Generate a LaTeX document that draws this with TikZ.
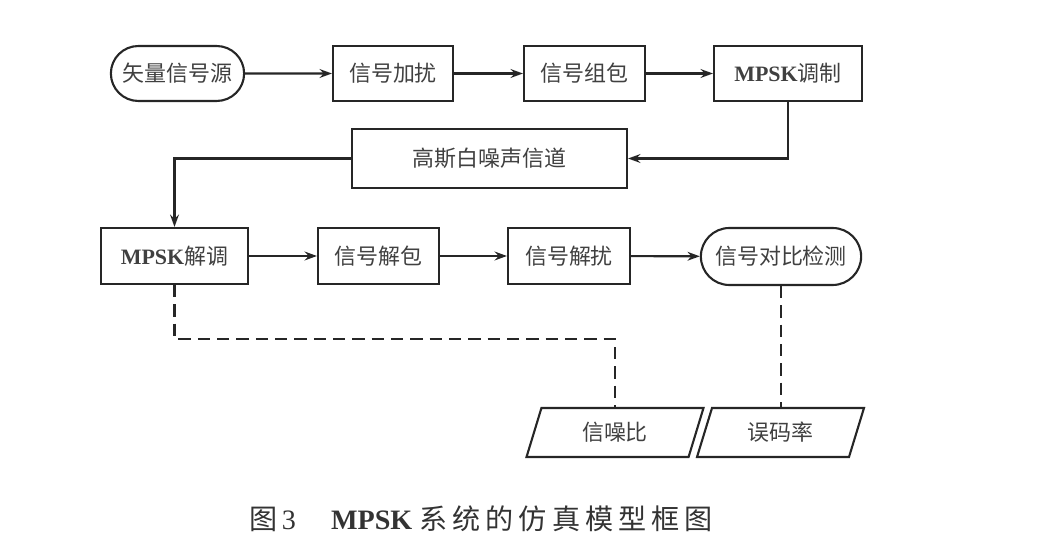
\documentclass[tikz,border=0pt]{standalone}
\usepackage{fontspec}
\setmainfont{Liberation Serif}
\newfontfamily\cjk{Noto Sans CJK SC}
\usetikzlibrary{arrows.meta,positioning,shapes.misc,shapes.geometric,calc}

\begin{document}
\begin{tikzpicture}[x=0.02cm, y=-0.02cm, >={Stealth[length=7pt,width=5pt]},
  b/.style={draw=black!85, line width=1.2pt, minimum height=1.1cm, text=black!75, font=\cjk\fontsize{12.5}{15}\selectfont},
  rr/.style={b, rounded rectangle},
  io/.style={b, trapezium, trapezium left angle=65, trapezium right angle=115, trapezium stretches body, minimum height=0.98cm},
  ln/.style={draw=black!85, line width=1.2pt},
  dsh/.style={ln, dashed, dash pattern=on 7pt off 4pt}]
\useasboundingbox (0,0) rectangle (1037,543);
% first row
\node[rr, minimum width=2.9cm] (src) at (177.5,73.5) {矢量信号源};
\node[b, minimum width=2.4cm] (scr) at (393,73.5) {信号加扰};
\node[b, minimum width=2.42cm] (pkt) at (584.5,73.5) {信号组包};
\node[b, minimum width=2.96cm] (mod) at (788,73.5) {{\rmfamily\bfseries MPSK}调制};
% channel
\node[b, minimum width=5.5cm, minimum height=1.18cm] (awgn) at (489.5,158.5) {高斯白噪声信道};
% second row
\node[b, minimum width=2.94cm, minimum height=1.12cm] (dem) at (174.5,256) {{\rmfamily\bfseries MPSK}解调};
\node[b, minimum width=2.42cm, minimum height=1.12cm] (upk) at (378.5,256) {信号解包};
\node[b, minimum width=2.44cm, minimum height=1.12cm] (dsc) at (569,256) {信号解扰};
\node[rr, minimum width=3.44cm, minimum height=1.14cm] (cmp) at (781,256.5) {信号对比检测};
% outputs
\node[io, minimum width=3.54cm] (snr) at (615,432.5) {信噪比};
\node[io, minimum width=3.34cm] (ber) at (780.5,432.5) {误码率};

\foreach \u/\v in {src/scr,scr/pkt,pkt/mod,dem/upk,upk/dsc,dsc/cmp} \draw[ln,->] (\u) -- (\v);
\draw[ln,->] (mod.south) |- (awgn.east);
\draw[ln,->] (awgn.west) -| (dem.north);
\draw[dsh] (dem.south) -- ++(0,54) -| (snr.north);
\draw[dsh] (cmp.south) -- (cmp.south |- ber.north);

\node[font=\fontsize{16}{19}\selectfont, text=black!80] (cap) at (481,519) {{\cjk 图}\,3\quad\ {\bfseries MPSK} {\cjk\addfontfeatures{LetterSpace=18} 系统的仿真模型框图}};
\end{tikzpicture}
\end{document}
